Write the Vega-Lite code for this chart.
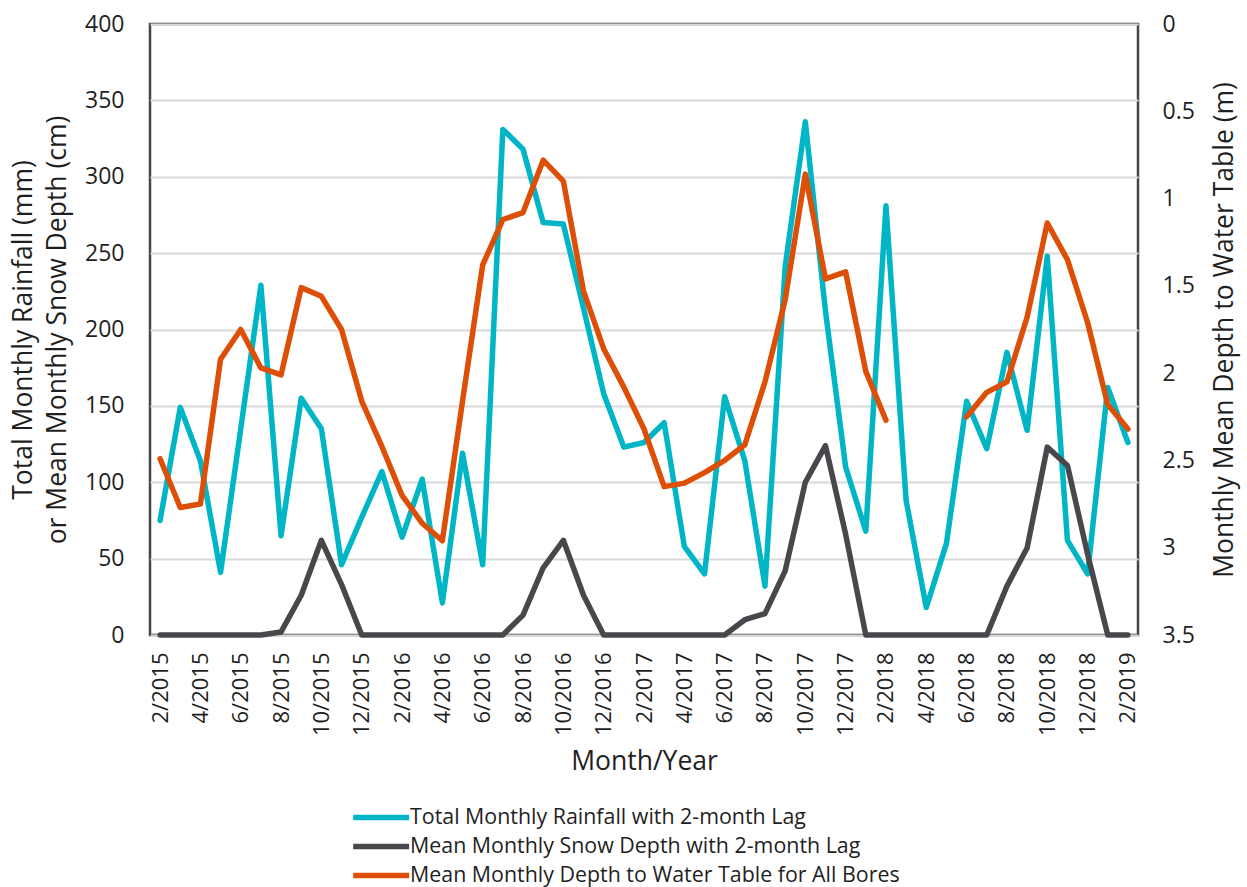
{
  "$schema": "https://vega.github.io/schema/vega-lite/v6.json",
  "width": 988,
  "height": 611,
  "autosize": {"type": "none"},
  "padding": {"left": 150, "top": 24, "right": 109, "bottom": 252},
  "background": "white",
  "config": {
    "view": {"stroke": "#44444c", "strokeWidth": 2.5},
    "axis": {
      "domain": false,
      "ticks": false,
      "labelFont": "Open Sans",
      "labelFontSize": 23,
      "labelColor": "#1f1f1f",
      "titleFont": "Open Sans",
      "titleFontSize": 26.5,
      "titleFontWeight": "normal",
      "titleColor": "#1f1f1f"
    },
    "legend": {
      "labelFont": "Open Sans",
      "labelFontSize": 21.4,
      "labelColor": "#1f1f1f",
      "labelLimit": 0
    },
    "line": {"strokeWidth": 5.5, "strokeCap": "round", "strokeJoin": "round"}
  },
  "data": {
    "values": [
      {"month": "2/2015", "rain": 75, "snow": 0, "depth": 2.49},
      {"month": "3/2015", "rain": 149, "snow": 0, "depth": 2.77},
      {"month": "4/2015", "rain": 114, "snow": 0, "depth": 2.75},
      {"month": "5/2015", "rain": 41, "snow": 0, "depth": 1.92},
      {"month": "6/2015", "rain": 135, "snow": 0, "depth": 1.75},
      {"month": "7/2015", "rain": 229, "snow": 0, "depth": 1.97},
      {"month": "8/2015", "rain": 65, "snow": 2, "depth": 2.01},
      {"month": "9/2015", "rain": 155, "snow": 26, "depth": 1.51},
      {"month": "10/2015", "rain": 135, "snow": 62, "depth": 1.56},
      {"month": "11/2015", "rain": 46, "snow": 33, "depth": 1.75},
      {"month": "12/2015", "rain": 77, "snow": 0, "depth": 2.16},
      {"month": "1/2016", "rain": 107, "snow": 0, "depth": 2.42},
      {"month": "2/2016", "rain": 64, "snow": 0, "depth": 2.70},
      {"month": "3/2016", "rain": 102, "snow": 0, "depth": 2.86},
      {"month": "4/2016", "rain": 21, "snow": 0, "depth": 2.96},
      {"month": "5/2016", "rain": 119, "snow": 0, "depth": 2.16},
      {"month": "6/2016", "rain": 46, "snow": 0, "depth": 1.38},
      {"month": "7/2016", "rain": 331, "snow": 0, "depth": 1.12},
      {"month": "8/2016", "rain": 318, "snow": 13, "depth": 1.08},
      {"month": "9/2016", "rain": 270, "snow": 44, "depth": 0.78},
      {"month": "10/2016", "rain": 269, "snow": 62, "depth": 0.90},
      {"month": "11/2016", "rain": 214, "snow": 26, "depth": 1.53},
      {"month": "12/2016", "rain": 158, "snow": 0, "depth": 1.86},
      {"month": "1/2017", "rain": 123, "snow": 0, "depth": 2.08},
      {"month": "2/2017", "rain": 126, "snow": 0, "depth": 2.32},
      {"month": "3/2017", "rain": 139, "snow": 0, "depth": 2.65},
      {"month": "4/2017", "rain": 58, "snow": 0, "depth": 2.63},
      {"month": "5/2017", "rain": 40, "snow": 0, "depth": 2.57},
      {"month": "6/2017", "rain": 156, "snow": 0, "depth": 2.50},
      {"month": "7/2017", "rain": 114, "snow": 10, "depth": 2.41},
      {"month": "8/2017", "rain": 32, "snow": 14, "depth": 2.05},
      {"month": "9/2017", "rain": 241, "snow": 42, "depth": 1.58},
      {"month": "10/2017", "rain": 336, "snow": 100, "depth": 0.86},
      {"month": "11/2017", "rain": 212, "snow": 124, "depth": 1.46},
      {"month": "12/2017", "rain": 110, "snow": 66, "depth": 1.42},
      {"month": "1/2018", "rain": 68, "snow": 0, "depth": 1.99},
      {"month": "2/2018", "rain": 281, "snow": 0, "depth": 2.27},
      {"month": "3/2018", "rain": 88, "snow": 0, "depth": null},
      {"month": "4/2018", "rain": 18, "snow": 0, "depth": null},
      {"month": "5/2018", "rain": 60, "snow": 0, "depth": null},
      {"month": "6/2018", "rain": 153, "snow": 0, "depth": 2.25},
      {"month": "7/2018", "rain": 122, "snow": 0, "depth": 2.11},
      {"month": "8/2018", "rain": 185, "snow": 32, "depth": 2.05},
      {"month": "9/2018", "rain": 134, "snow": 57, "depth": 1.68},
      {"month": "10/2018", "rain": 248, "snow": 123, "depth": 1.14},
      {"month": "11/2018", "rain": 62, "snow": 111, "depth": 1.35},
      {"month": "12/2018", "rain": 40, "snow": 53, "depth": 1.71},
      {"month": "1/2019", "rain": 162, "snow": 0, "depth": 2.18},
      {"month": "2/2019", "rain": 126, "snow": 0, "depth": 2.32}
    ]
  },
  "encoding": {
    "x": {
      "field": "month",
      "type": "ordinal",
      "sort": null,
      "scale": {"type": "point", "padding": 0.5},
      "axis": {
        "title": "Month/Year",
        "labelAngle": 270,
        "labelFontSize": 22,
        "labelPadding": 17,
        "titlePadding": 13,
        "values": ["2/2015","4/2015","6/2015","8/2015","10/2015","12/2015","2/2016","4/2016","6/2016","8/2016","10/2016","12/2016","2/2017","4/2017","6/2017","8/2017","10/2017","12/2017","2/2018","4/2018","6/2018","8/2018","10/2018","12/2018","2/2019"]
      }
    }
  },
  "layer": [
    {
      "layer": [
        {
          "mark": {"type": "line"},
          "encoding": {
            "y": {
              "field": "rain",
              "type": "quantitative",
              "scale": {"domain": [0, 400], "nice": false},
              "axis": {
                "title": ["Total Monthly Rainfall (mm)", "or Mean Monthly Snow Depth (cm)"],
                "titleLineHeight": 34,
                "values": [0, 50, 100, 150, 200, 250, 300, 350, 400],
                "format": "d",
                "labelPadding": 26,
                "titlePadding": 13,
                "grid": true,
                "gridColor": "#d9d9d9",
                "gridWidth": 2
              }
            },
            "color": {
              "datum": "Total Monthly Rainfall with 2-month Lag",
              "type": "nominal",
              "scale": {
                "domain": ["Total Monthly Rainfall with 2-month Lag", "Mean Monthly Snow Depth with 2-month Lag", "Mean Monthly Depth to Water Table for All Bores"],
                "range": ["#00b6c6", "#48484c", "#dd4f06"]
              },
              "legend": {
                "title": null,
                "orient": "none",
                "legendX": 200,
                "legendY": 781,
                "direction": "vertical",
                "symbolType": "M-1,0H5",
                "symbolStrokeWidth": 5,
                "symbolSize": 348,
                "labelOffset": 35,
                "rowPadding": 6
              }
            }
          }
        },
        {
          "mark": {"type": "line"},
          "encoding": {
            "y": {"field": "snow", "type": "quantitative"},
            "color": {"datum": "Mean Monthly Snow Depth with 2-month Lag", "type": "nominal"}
          }
        }
      ]
    },
    {
      "mark": {"type": "line"},
      "encoding": {
        "y": {
          "field": "depth",
          "type": "quantitative",
          "scale": {"domain": [0, 3.5], "reverse": true, "nice": false, "zero": false},
          "axis": {
            "orient": "right",
            "title": "Monthly Mean Depth to Water Table (m)",
            "titleAngle": 270,
            "values": [0, 0.5, 1, 1.5, 2, 2.5, 3, 3.5],
            "format": "~g",
            "labelPadding": 24,
            "titlePadding": 44,
            "grid": false
          }
        },
        "color": {"datum": "Mean Monthly Depth to Water Table for All Bores", "type": "nominal"}
      }
    }
  ],
  "resolve": {"scale": {"y": "independent"}}
}
